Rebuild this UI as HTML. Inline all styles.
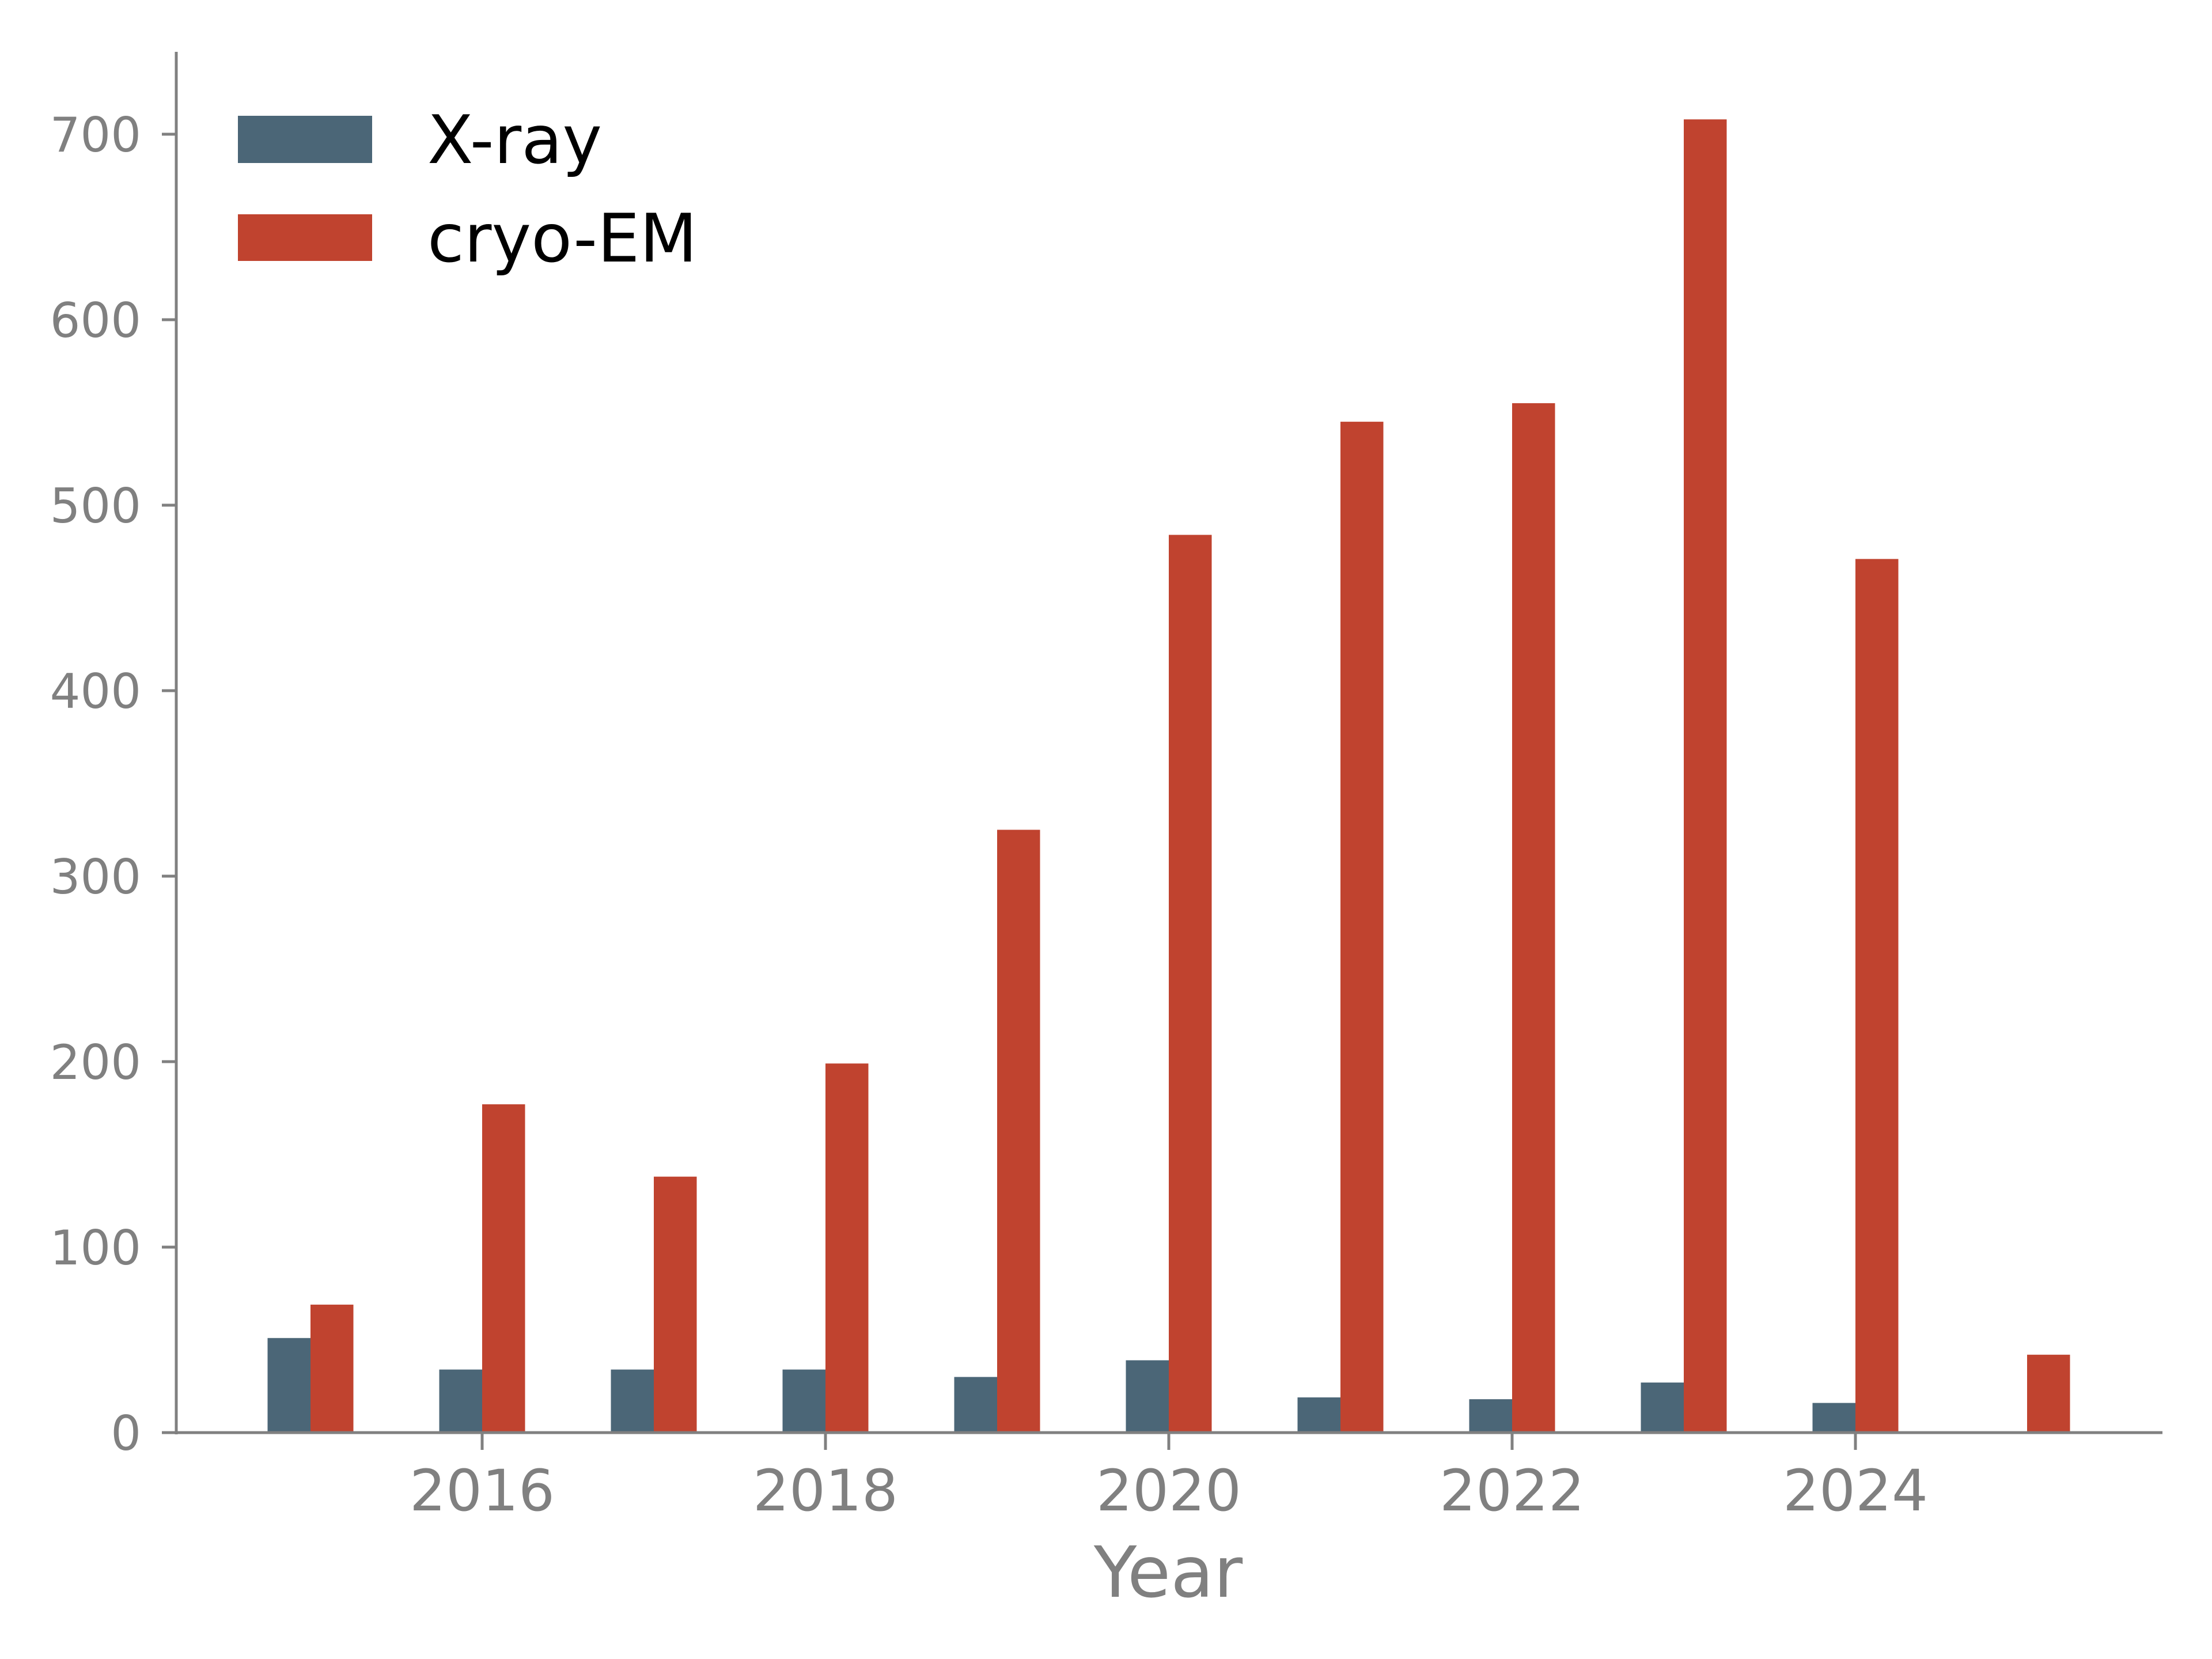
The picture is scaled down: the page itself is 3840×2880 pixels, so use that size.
<!DOCTYPE html>
<html><head><meta charset="utf-8"><style>
html,body{margin:0;padding:0;background:#fff;}
svg{display:block;font-family:"DejaVu Sans","Liberation Sans",sans-serif;}
</style></head><body>
<svg id="chart" width="3840" height="2880" viewBox="0 0 3840 2880" xmlns="http://www.w3.org/2000/svg">
<rect width="3840" height="2880" fill="#fff"/>
<g id="bars"></g>
<g id="axes"></g>
<g>
 <rect x="413" y="201" width="233" height="82" fill="#4b6677"/>
 <text x="742" y="283" font-size="116" fill="#000">X-ray</text>
 <rect x="413" y="372" width="233" height="81" fill="#c0432f"/>
 <text x="742" y="454" font-size="116" fill="#000">cryo-EM</text>
</g>
<text x="2028" y="2772" font-size="122" fill="#808080" text-anchor="middle">Year</text>
</svg>
<script>
const years = [2015,2016,2017,2018,2019,2020,2021,2022,2023,2024,2025];
const xray = [51,34,34,34,30,39,19,18,27,16,0];
const cryo = [69,177,138,199,325,484,545,555,708,471,42];
const yTicks = [0,100,200,300,400,500,600,700];
const xTicks = [2016,2018,2020,2022,2024];

const NS="http://www.w3.org/2000/svg";
const x0=306, x1=3754, y0=2487, pxPerUnit=(2487-233)/700;
function xs(yr){return 837+(yr-2016)*298.0;}
function ys(v){return y0-v*pxPerUnit;}
const bw=0.25*298.0;
function mk(tag,attrs,parent){const e=document.createElementNS(NS,tag);for(const k in attrs)e.setAttribute(k,attrs[k]);parent.appendChild(e);return e;}
const bars=document.getElementById('bars'), axes=document.getElementById('axes');
years.forEach((yr,i)=>{
  if(xray[i]>0){
    const r=mk('rect',{x:xs(yr)-bw,y:ys(xray[i]),width:bw,height:y0-ys(xray[i]),fill:'#4b6677'},bars);
    
    
  }
  const c=mk('rect',{x:xs(yr),y:ys(cryo[i]),width:bw,height:y0-ys(cryo[i]),fill:'#c0432f'},bars);
  
  
});
const ya=mk('line',{x1:x0,y1:90,x2:x0,y2:y0+3,stroke:'#808080','stroke-width':5},axes);


const xa=mk('line',{x1:x0-3,y1:y0,x2:x1,y2:y0,stroke:'#808080','stroke-width':5},axes);


yTicks.forEach(v=>{
  const t=mk('line',{x1:x0-25,y1:ys(v),x2:x0,y2:ys(v),stroke:'#808080','stroke-width':5},axes);
  
  
  const l=mk('text',{x:245,y:ys(v)+30,'font-size':83,fill:'#808080','text-anchor':'end'},axes);
  l.textContent=v;
  
  
});
xTicks.forEach(v=>{
  const t=mk('line',{x1:xs(v),y1:y0,x2:xs(v),y2:y0+30,stroke:'#808080','stroke-width':5},axes);
  
  
  const l=mk('text',{x:xs(v),y:2622,'font-size':99,fill:'#808080','text-anchor':'middle'},axes);
  l.textContent=v;
  
  
});
</script>
</body></html>
